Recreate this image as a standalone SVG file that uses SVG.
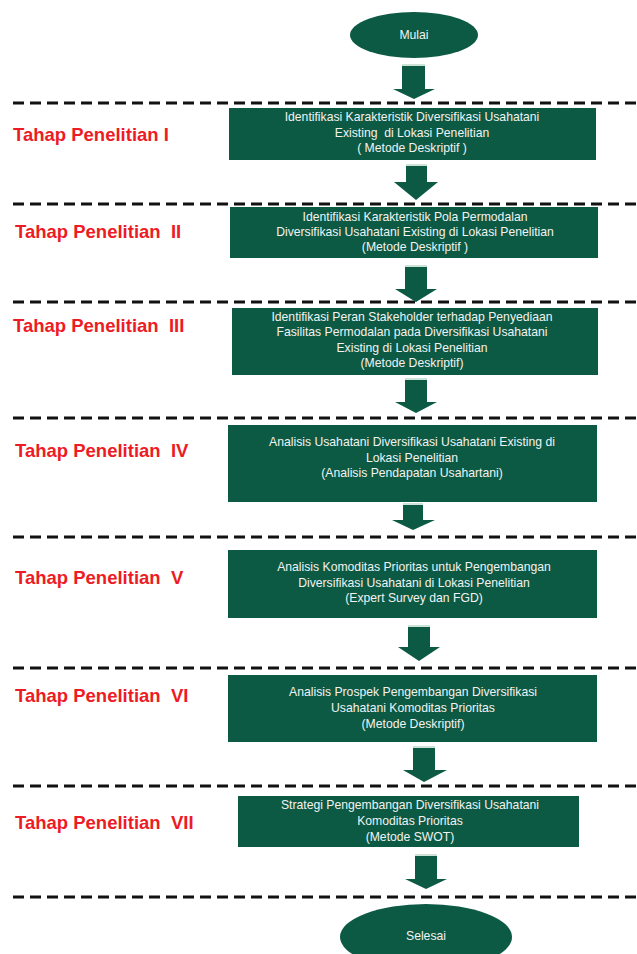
<svg xmlns="http://www.w3.org/2000/svg" width="637" height="954" viewBox="0 0 637 954">
<style>
.box{fill:#0c5a43}
.term{fill:#0c5a43}
.bt{font-family:"Liberation Sans",Arial,sans-serif;font-size:12.2px;fill:#f2f2f2;text-anchor:middle;white-space:pre}
.lbl{font-family:"Liberation Sans",Arial,sans-serif;font-size:18.5px;font-weight:bold;fill:#ed1c24;white-space:pre}
.dash{stroke:#111;stroke-width:3;stroke-dasharray:11 6;fill:none}
.arr{fill:#0c5a43}
.hl{stroke:#cfe2d8;stroke-width:2}
</style>
<rect width="637" height="954" fill="#fff"/>
<g id="separators">
<line class="dash" x1="13" y1="103" x2="637" y2="103"/>
<line class="dash" x1="13" y1="204" x2="637" y2="204"/>
<line class="dash" x1="13" y1="302" x2="637" y2="302"/>
<line class="dash" x1="13" y1="418" x2="637" y2="418"/>
<line class="dash" x1="13" y1="537" x2="637" y2="537"/>
<line class="dash" x1="13" y1="668" x2="637" y2="668"/>
<line class="dash" x1="13" y1="786" x2="637" y2="786"/>
<line class="dash" x1="13" y1="897" x2="637" y2="897"/>
</g>
<g id="labels">
<text class="lbl" x="13" y="141" xml:space="preserve">Tahap Penelitian I</text>
<text class="lbl" x="15" y="238" xml:space="preserve">Tahap Penelitian  II</text>
<text class="lbl" x="13" y="332" xml:space="preserve">Tahap Penelitian  III</text>
<text class="lbl" x="15" y="457" xml:space="preserve">Tahap Penelitian  IV</text>
<text class="lbl" x="15" y="584" xml:space="preserve">Tahap Penelitian  V</text>
<text class="lbl" x="15" y="702" xml:space="preserve">Tahap Penelitian  VI</text>
<text class="lbl" x="15" y="829" xml:space="preserve">Tahap Penelitian  VII</text>
</g>
<g id="mulai">
<ellipse class="term" cx="414" cy="35" rx="64" ry="23"/>
<text class="bt" x="414" y="39">Mulai</text>
</g>
<g id="box1">
<rect class="box" x="229" y="108" width="367" height="52"/>
<text class="bt" x="412" y="121">Identifikasi Karakteristik Diversifikasi Usahatani</text>
<text class="bt" x="412" y="137" xml:space="preserve">Existing  di Lokasi Penelitian</text>
<text class="bt" x="412" y="152">( Metode Deskriptif )</text>
</g>
<g id="box2">
<rect class="box" x="230" y="207" width="368" height="51"/>
<text class="bt" x="415" y="221">Identifikasi Karakteristik Pola Permodalan</text>
<text class="bt" x="415" y="236">Diversifikasi Usahatani Existing di Lokasi Penelitian</text>
<text class="bt" x="415" y="251">(Metode Deskriptif )</text>
</g>
<g id="box3">
<rect class="box" x="232" y="308" width="366" height="67"/>
<text class="bt" x="412" y="321">Identifikasi Peran Stakeholder terhadap Penyediaan</text>
<text class="bt" x="412" y="336">Fasilitas Permodalan pada Diversifikasi Usahatani</text>
<text class="bt" x="412" y="352">Existing di Lokasi Penelitian</text>
<text class="bt" x="412" y="367">(Metode Deskriptif)</text>
</g>
<g id="box4">
<rect class="box" x="228" y="425" width="369" height="77"/>
<text class="bt" x="412" y="446">Analisis Usahatani Diversifikasi Usahatani Existing di</text>
<text class="bt" x="412" y="462">Lokasi Penelitian</text>
<text class="bt" x="412" y="477">(Analisis Pendapatan Usahartani)</text>
</g>
<g id="box5">
<rect class="box" x="228" y="550" width="369" height="68"/>
<text class="bt" x="414" y="571">Analisis Komoditas Prioritas untuk Pengembangan</text>
<text class="bt" x="414" y="587">Diversifikasi Usahatani di Lokasi Penelitian</text>
<text class="bt" x="414" y="602">(Expert Survey dan FGD)</text>
</g>
<g id="box6">
<rect class="box" x="228" y="675" width="369" height="67"/>
<text class="bt" x="413" y="696">Analisis Prospek Pengembangan Diversifikasi</text>
<text class="bt" x="413" y="712">Usahatani Komoditas Prioritas</text>
<text class="bt" x="413" y="728">(Metode Deskriptif)</text>
</g>
<g id="box7">
<rect class="box" x="238" y="796" width="341" height="51"/>
<text class="bt" x="410" y="809">Strategi Pengembangan Diversifikasi Usahatani</text>
<text class="bt" x="410" y="825">Komoditas Prioritas</text>
<text class="bt" x="410" y="841">(Metode SWOT)</text>
</g>
<g id="selesai">
<ellipse class="term" cx="426" cy="937" rx="86" ry="33"/>
<text class="bt" x="426" y="940">Selesai</text>
</g>
<g id="connectors">
<polygon class="arr" points="402,64 425,64 425,89 435,89 414,99 393,89 402,89"/>
<line class="hl" x1="402" y1="65" x2="425" y2="65"/>
<polygon class="arr" points="406,164 427,164 427,182 438,182 416,200 394,182 406,182"/>
<line class="hl" x1="406" y1="165" x2="427" y2="165"/>
<polygon class="arr" points="405,265 427,265 427,289 437,289 416,302 395,289 405,289"/>
<line class="hl" x1="405" y1="266" x2="427" y2="266"/>
<polygon class="arr" points="405,378 427,378 427,402 437,402 416,413 395,402 405,402"/>
<line class="hl" x1="405" y1="379" x2="427" y2="379"/>
<polygon class="arr" points="403,503 423,503 423,520 435,520 413,530 392,520 403,520"/>
<line class="hl" x1="403" y1="504" x2="423" y2="504"/>
<polygon class="arr" points="408,625 430,625 430,647 440,647 419,661 398,647 408,647"/>
<line class="hl" x1="408" y1="626" x2="430" y2="626"/>
<polygon class="arr" points="413,746 435,746 435,770 447,770 424,782 403,770 413,770"/>
<line class="hl" x1="413" y1="747" x2="435" y2="747"/>
<polygon class="arr" points="415,854 437,854 437,879 447,879 426,889 405,879 415,879"/>
<line class="hl" x1="415" y1="855" x2="437" y2="855"/>
</g>
</svg>
